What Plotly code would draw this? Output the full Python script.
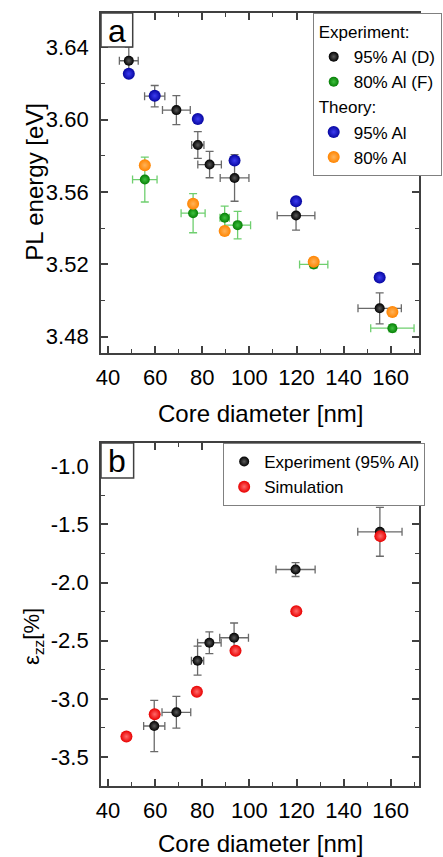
import plotly.graph_objects as go

# ---------------- Data ----------------
# Panel a: PL energy vs core diameter
exp95_x = [48.8, 59.8, 69.0, 78.1, 83.1, 93.7, 119.8, 155.3]
exp95_y = [3.6326, 3.6130, 3.6053, 3.5860, 3.5752, 3.5678, 3.5470, 3.4957]
exp95_xerr = [4.0, 4.3, 5.9, 2.6, 5.0, 6.1, 8.0, 9.2]
exp95_yerr = [0.0075, 0.0059, 0.0080, 0.0074, 0.0073, 0.0129, 0.0081, 0.0086]

exp80_x = [55.6, 76.1, 89.5, 95.0, 127.3, 160.7]
exp80_y = [3.5669, 3.5483, 3.5458, 3.5417, 3.5200, 3.4847]
exp80_xerr = [5.2, 5.1, 2.0, 5.5, 6.0, 9.2]
exp80_yerr = [0.0124, 0.0108, 0.0064, 0.0076, 0.0020, 0.0020]

th95_x = [48.8, 59.8, 78.1, 93.7, 119.8, 155.3]
th95_y = [3.6254, 3.6132, 3.6004, 3.5774, 3.5549, 3.5127]

th80_x = [55.6, 76.1, 89.5, 127.3, 160.7]
th80_y = [3.5748, 3.5535, 3.5384, 3.5215, 3.4937]

# Panel b: strain vs core diameter
strain_exp_x = [59.6, 69.0, 78.0, 83.0, 93.5, 119.6, 155.4]
strain_exp_y = [-3.234, -3.116, -2.672, -2.518, -2.475, -1.888, -1.564]
strain_exp_xerr = [4.5, 6.1, 2.6, 5.0, 6.1, 8.3, 9.4]
strain_exp_yerr = [0.22, 0.136, 0.125, 0.093, 0.127, 0.06, 0.21]

sim_x = [47.8, 59.8, 77.7, 94.1, 119.9, 155.6]
sim_y = [-3.325, -3.133, -2.939, -2.587, -2.246, -1.601]

x_ticks = [40, 60, 80, 100, 120, 140, 160]
ya_ticks = [3.48, 3.52, 3.56, 3.60, 3.64]
ya_labels = ["3.48", "3.52", "3.56", "3.60", "3.64"]
yb_ticks = [-3.5, -3.0, -2.5, -2.0, -1.5, -1.0]
yb_labels = ["-3.5", "-3.0", "-2.5", "-2.0", "-1.5", "-1.0"]

# ---------------- Styling ----------------
FONT = "Liberation Sans, Arial, sans-serif"
AX = "#404040"
W, H = 443, 857
ML, MR, MT, MB = 101, 1, 13, 71


def sphere(color, hi, size):
    return dict(color=color, size=size, line=dict(width=0),
                gradient=dict(type="radial", color=hi))


def ebar(arr, color):
    return dict(type="data", array=arr, visible=True, color=color,
                thickness=1.3, width=4)


GRAY_ERR = "#6a6a6a"
GREEN_ERR = "#6fcf6f"

fig = go.Figure()

# Panel a traces
fig.add_trace(go.Scatter(
    x=exp95_x, y=exp95_y, mode="markers", name="95% Al (D)",
    marker=sphere("#000000", "#5a5a5a", 10),
    error_x=ebar(exp95_xerr, GRAY_ERR), error_y=ebar(exp95_yerr, GRAY_ERR),
    legendgroup="exp", legendgrouptitle=dict(text="Experiment:"),
    xaxis="x", yaxis="y", legend="legend"))
fig.add_trace(go.Scatter(
    x=exp80_x, y=exp80_y, mode="markers", name="80% Al (F)",
    marker=sphere("#067f06", "#3fc03f", 10),
    error_x=ebar(exp80_xerr, GREEN_ERR), error_y=ebar(exp80_yerr, GREEN_ERR),
    legendgroup="exp",
    xaxis="x", yaxis="y", legend="legend"))
fig.add_trace(go.Scatter(
    x=th95_x, y=th95_y, mode="markers", name="95% Al",
    marker=sphere("#0606a0", "#3c3cf0", 12),
    legendgroup="th", legendgrouptitle=dict(text="Theory:"),
    xaxis="x", yaxis="y", legend="legend"))
fig.add_trace(go.Scatter(
    x=th80_x, y=th80_y, mode="markers", name="80% Al",
    marker=sphere("#ff8400", "#ffb35a", 12),
    legendgroup="th",
    xaxis="x", yaxis="y", legend="legend"))

# Panel b traces
fig.add_trace(go.Scatter(
    x=strain_exp_x, y=strain_exp_y, mode="markers", name="Experiment (95% Al)",
    marker=sphere("#000000", "#5a5a5a", 10),
    error_x=ebar(strain_exp_xerr, GRAY_ERR), error_y=ebar(strain_exp_yerr, GRAY_ERR),
    xaxis="x2", yaxis="y2", legend="legend2"))
fig.add_trace(go.Scatter(
    x=sim_x, y=sim_y, mode="markers", name="Simulation",
    marker=sphere("#e80000", "#ff6a6a", 12),
    xaxis="x2", yaxis="y2", legend="legend2"))

plot_h = H - MT - MB
plot_w = W - ML - MR
a_bottom_px, b_top_px = 353, 443
dom_a = [(H - MB - a_bottom_px) / plot_h, 1.0]
dom_b = [0.0, (H - MB - b_top_px) / plot_h]

tickfont = dict(family=FONT, size=22, color="black")


def xaxis(anchor):
    return dict(range=[37, 172], tickvals=x_ticks, ticks="inside", ticklen=7,
                tickwidth=1.5, tickcolor=AX, showline=True, linecolor=AX,
                linewidth=1.8, mirror="allticks", showgrid=False, zeroline=False,
                tickfont=tickfont, anchor=anchor, ticklabelstandoff=4,
                minor=dict(dtick=10, tick0=0, ticks="inside", ticklen=4,
                           tickwidth=1.2, tickcolor=AX, showgrid=False))


def yaxis(anchor, rng, vals, labels, dom, minor_dt, tick0):
    return dict(range=rng, tickvals=vals, ticktext=labels, ticks="inside",
                ticklen=7, tickwidth=1.5, tickcolor=AX, showline=True,
                linecolor=AX, linewidth=1.8, mirror="allticks", showgrid=False,
                zeroline=False, tickfont=tickfont, anchor=anchor, domain=dom,
                ticklabelstandoff=6,
                minor=dict(dtick=minor_dt, tick0=tick0, ticks="inside",
                           ticklen=4, tickwidth=1.2, tickcolor=AX,
                           showgrid=False))


def py(px):
    return (H - MB - px) / plot_h


def pxx(px):
    return (px - ML) / plot_w


legfont = dict(family=FONT, size=17, color="black")

fig.update_layout(
    width=W, height=H,
    margin=dict(l=ML, r=MR, t=MT, b=MB, pad=0),
    paper_bgcolor="white", plot_bgcolor="white",
    font=dict(family=FONT, color="black"),
    showlegend=True,
    xaxis=xaxis("y"),
    yaxis=yaxis("x", [3.471, 3.659], ya_ticks, ya_labels, dom_a, 0.02, 3.48),
    xaxis2=xaxis("y2"),
    yaxis2=yaxis("x2", [-3.75, -0.8], yb_ticks, yb_labels, dom_b, 0.25, -3.5),
    legend=dict(x=pxx(328), y=1.0, xanchor="left", yanchor="top",
                bgcolor="white", bordercolor="#808080", borderwidth=1,
                font=legfont, grouptitlefont=legfont, tracegroupgap=0,
                itemwidth=30, traceorder="grouped"),
    legend2=dict(x=pxx(232), y=dom_b[1], xanchor="left", yanchor="top",
                 bgcolor="white", bordercolor="#808080", borderwidth=1,
                 font=legfont, itemwidth=30),
)

# panel label boxes
for lab, top_px, size in (("a", MT, 34), ("b", b_top_px, 35)):
    fig.add_shape(type="rect", xref="paper", yref="paper",
                  x0=0, x1=pxx(ML + size), y0=py(top_px + size), y1=py(top_px),
                  line=dict(color=AX, width=1.5), fillcolor="white",
                  layer="above")
    fig.add_annotation(text=lab, xref="paper", yref="paper",
                       x=pxx(ML + size / 2), y=py(top_px + size / 2 + 1),
                       showarrow=False, font=dict(family=FONT, size=32,
                                                  color="black"),
                       xanchor="center", yanchor="middle")

# axis titles
titlefont = dict(family=FONT, size=24, color="black")
fig.add_annotation(text="Core diameter [nm]", xref="paper", yref="paper",
                   x=0.5, y=py(413), showarrow=False, font=titlefont,
                   xanchor="center", yanchor="middle")
fig.add_annotation(text="Core diameter [nm]", xref="paper", yref="paper",
                   x=0.5, y=py(843), showarrow=False, font=titlefont,
                   xanchor="center", yanchor="middle")
fig.add_annotation(text="PL energy [eV]", xref="paper", yref="paper",
                   x=pxx(29), y=py(182), showarrow=False, font=titlefont,
                   textangle=-90, xanchor="center", yanchor="middle")
fig.add_annotation(text="ε<sub>zz</sub>[%]", xref="paper", yref="paper",
                   x=pxx(28), y=py(636), showarrow=False,
                   font=dict(family=FONT, size=22, color="black"),
                   textangle=-90, xanchor="center", yanchor="middle")

fig.write_html("out.html")
